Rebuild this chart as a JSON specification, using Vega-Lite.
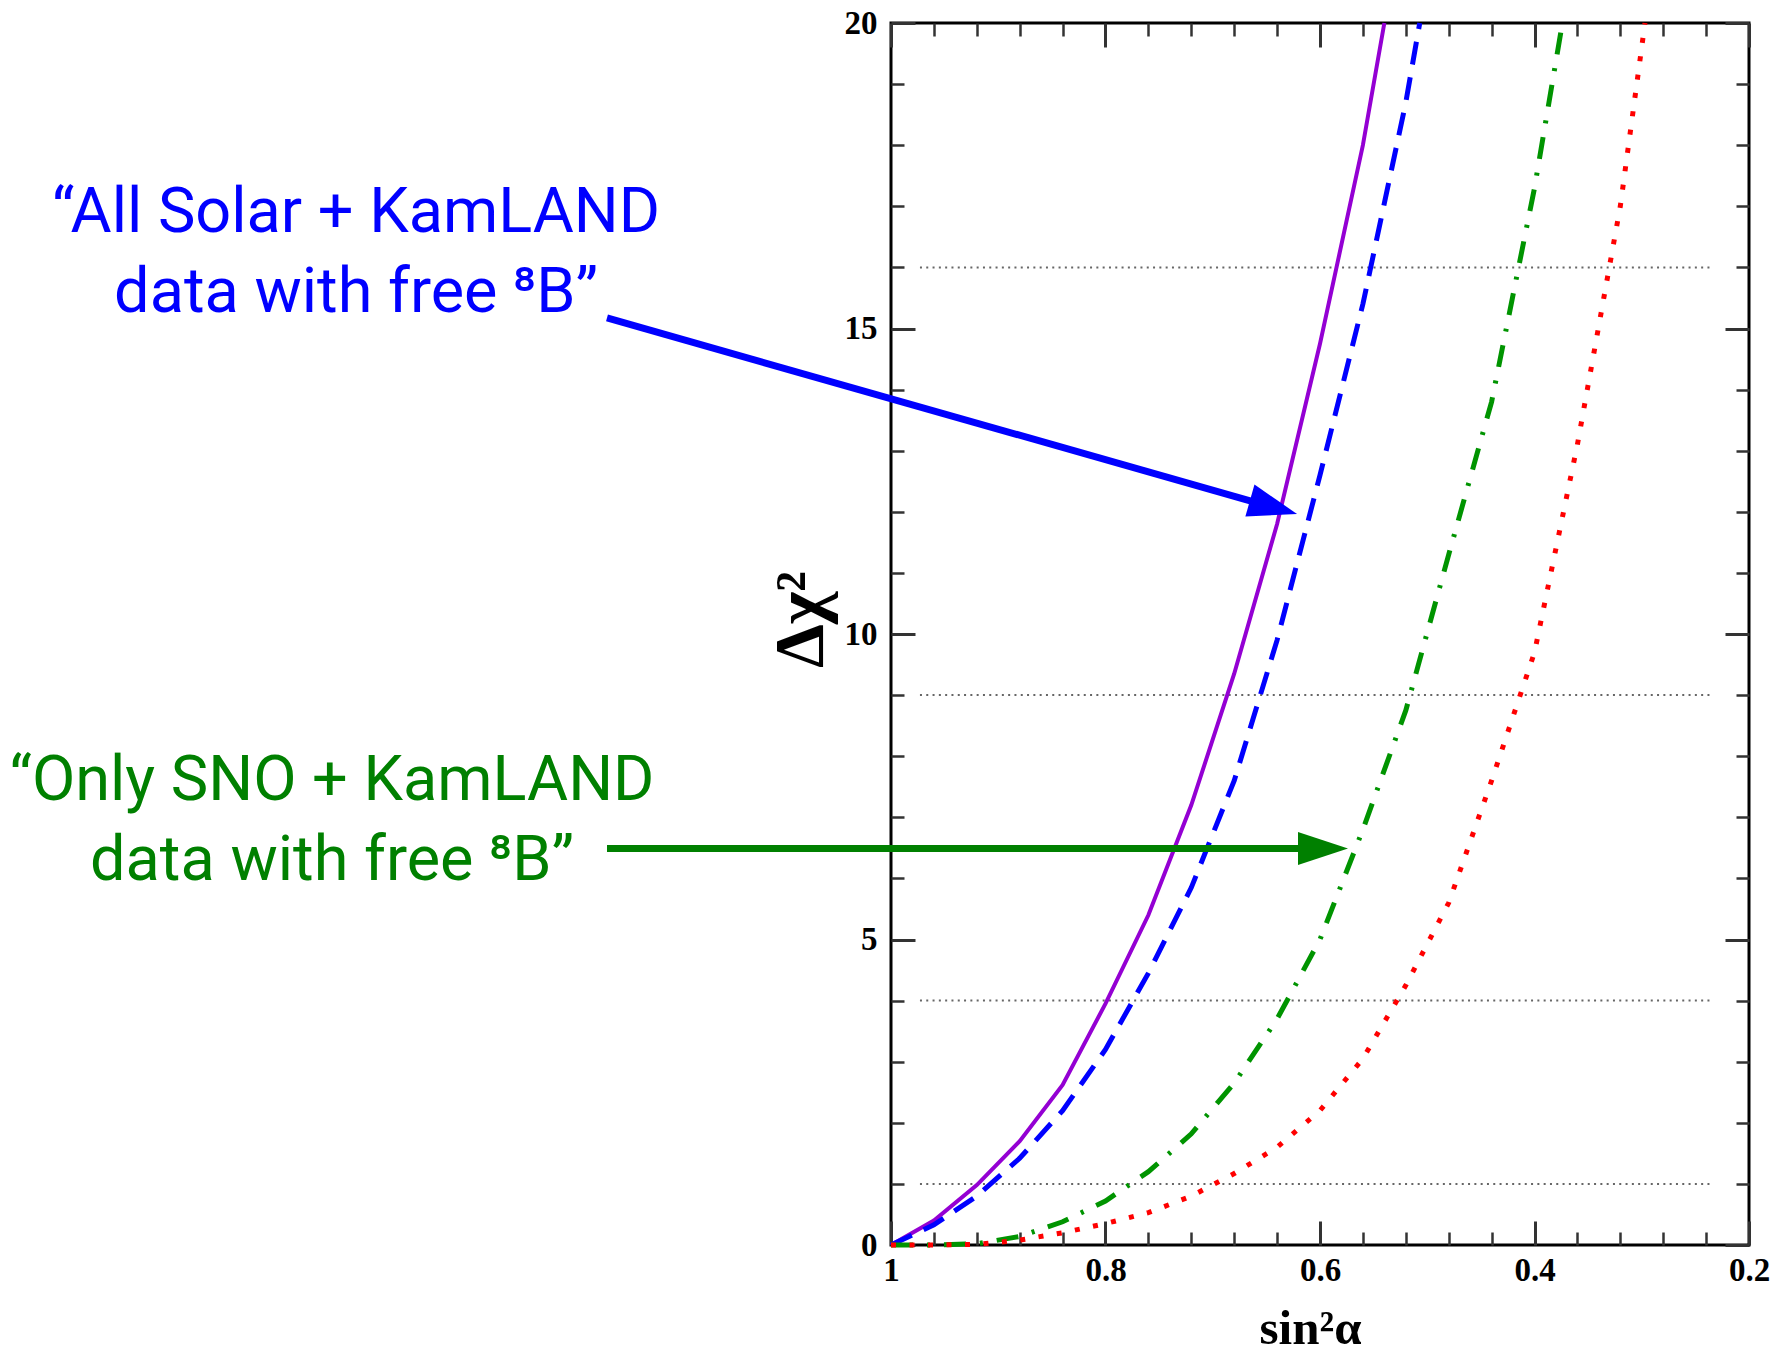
{
  "$schema": "https://vega.github.io/schema/vega-lite/v6.json",
  "width": 858,
  "height": 1222,
  "autosize": {"type": "none"},
  "padding": {"left": 891, "top": 23, "right": 25, "bottom": 111},
  "background": "white",
  "config": {
    "view": {"stroke": "#000000", "strokeWidth": 3},
    "axis": {
      "grid": false,
      "domain": false,
      "tickColor": "#333333",
      "labelFont": "Liberation Serif",
      "labelFontWeight": "bold",
      "labelFontSize": 33,
      "labelColor": "#000000",
      "titleFont": "Liberation Serif",
      "titleFontWeight": "bold",
      "titleColor": "#000000"
    }
  },
  "datasets": {
    "grid": [
      {"y": 1, "x": 0.973, "x2": 0.234},
      {"y": 4, "x": 0.973, "x2": 0.234},
      {"y": 9, "x": 0.973, "x2": 0.234},
      {"y": 16, "x": 0.973, "x2": 0.234}
    ],
    "purple": [
      {"x": 1.0, "y": 0}, {"x": 0.96, "y": 0.4}, {"x": 0.92, "y": 0.98}, {"x": 0.88, "y": 1.7},
      {"x": 0.84, "y": 2.62}, {"x": 0.8, "y": 3.95}, {"x": 0.76, "y": 5.4}, {"x": 0.72, "y": 7.2},
      {"x": 0.68, "y": 9.35}, {"x": 0.64, "y": 11.8}, {"x": 0.6, "y": 14.75}, {"x": 0.56, "y": 18.0},
      {"x": 0.54, "y": 20.0}
    ],
    "blue": [
      {"x": 1.0, "y": 0}, {"x": 0.96, "y": 0.33}, {"x": 0.92, "y": 0.8}, {"x": 0.88, "y": 1.42},
      {"x": 0.84, "y": 2.2}, {"x": 0.8, "y": 3.2}, {"x": 0.76, "y": 4.45}, {"x": 0.72, "y": 5.85},
      {"x": 0.68, "y": 7.6}, {"x": 0.64, "y": 9.9}, {"x": 0.6, "y": 12.6}, {"x": 0.56, "y": 15.4},
      {"x": 0.52, "y": 18.7}, {"x": 0.507, "y": 20.0}
    ],
    "green": [
      {"x": 1.0, "y": 0}, {"x": 0.96, "y": 0}, {"x": 0.92, "y": 0.02}, {"x": 0.88, "y": 0.14},
      {"x": 0.84, "y": 0.38}, {"x": 0.8, "y": 0.72}, {"x": 0.76, "y": 1.2}, {"x": 0.72, "y": 1.82},
      {"x": 0.68, "y": 2.65}, {"x": 0.64, "y": 3.7}, {"x": 0.6, "y": 5.0}, {"x": 0.56, "y": 6.8},
      {"x": 0.52, "y": 8.75}, {"x": 0.48, "y": 11.3}, {"x": 0.44, "y": 13.8}, {"x": 0.4, "y": 17.3},
      {"x": 0.374, "y": 20.0}
    ],
    "red": [
      {"x": 1.0, "y": 0}, {"x": 0.96, "y": 0}, {"x": 0.92, "y": 0.01}, {"x": 0.88, "y": 0.08},
      {"x": 0.84, "y": 0.2}, {"x": 0.8, "y": 0.35}, {"x": 0.76, "y": 0.53}, {"x": 0.72, "y": 0.8},
      {"x": 0.68, "y": 1.17}, {"x": 0.64, "y": 1.6}, {"x": 0.6, "y": 2.2}, {"x": 0.56, "y": 3.05},
      {"x": 0.52, "y": 4.25}, {"x": 0.48, "y": 5.6}, {"x": 0.44, "y": 7.6}, {"x": 0.4, "y": 9.7},
      {"x": 0.36, "y": 13.1}, {"x": 0.32, "y": 17.0}, {"x": 0.297, "y": 20.0}
    ],
    "arrows": [
      {"series": "all", "x": 1.2648, "y": 15.172, "x2": 0.661, "y2": 12.16},
      {"series": "sno", "x": 1.2648, "y": 6.489, "x2": 0.6149, "y2": 6.489}
    ],
    "headAll": [{"x": 0.6214, "y": 11.964}],
    "headSno": [{"x": 0.5739, "y": 6.489}],
    "notes": [
      {"series": "all", "label": "“All Solar + KamLAND", "x": 1.4988, "y": 16.584},
      {"series": "all", "label": "data with free ⁸B”", "x": 1.4988, "y": 15.275},
      {"series": "sno", "label": "“Only SNO + KamLAND", "x": 1.5212, "y": 7.283},
      {"series": "sno", "label": "data with free ⁸B”", "x": 1.5212, "y": 5.974}
    ]
  },
  "layer": [
    {
      "data": {"name": "grid"},
      "mark": {"type": "rule", "color": "#666666", "strokeWidth": 2, "strokeDash": [2, 4.3]},
      "encoding": {
        "x": {"field": "x", "type": "quantitative",
          "scale": {"domain": [0.2, 1], "reverse": true, "nice": false, "zero": false},
          "axis": {"orient": "bottom", "values": [1, 0.8, 0.6, 0.4, 0.2], "format": "~g",
            "ticks": false, "tickSize": 0, "labelPadding": 9, "labelFlush": false, "labelOverlap": false,
            "title": "sin²α", "titleFontSize": 49, "titleX": 419, "titleY": 98,
            "titleBaseline": "alphabetic", "titleAlign": "center"}},
        "x2": {"field": "x2"},
        "y": {"field": "y", "type": "quantitative",
          "scale": {"domain": [0, 20], "nice": false, "zero": false},
          "axis": {"orient": "left", "values": [0, 5, 10, 15, 20],
            "ticks": false, "tickSize": 0, "labelPadding": 14, "labelFlush": false, "labelOverlap": false,
            "title": "Δχ²", "titleFontSize": 70, "titleAngle": 270, "titleX": -69, "titleY": 596,
            "titleBaseline": "alphabetic", "titleAlign": "center"}}
      }
    },
    {
      "data": {"name": "purple"},
      "mark": {"type": "line", "color": "#9400D3", "strokeWidth": 4},
      "encoding": {
        "x": {"field": "x", "type": "quantitative",
          "scale": {"domain": [0.2, 1], "reverse": true, "nice": false, "zero": false},
          "axis": {"orient": "bottom", "values": [1, 0.8, 0.6, 0.4, 0.2], "labels": false,
            "tickSize": -24, "tickWidth": 3, "title": null}},
        "y": {"field": "y", "type": "quantitative",
          "scale": {"domain": [0, 20], "nice": false, "zero": false},
          "axis": {"orient": "left", "values": [0, 5, 10, 15, 20], "labels": false,
            "tickSize": -24, "tickWidth": 3, "title": null}},
        "order": {"field": "x", "sort": "descending"}
      }
    },
    {
      "data": {"name": "blue"},
      "mark": {"type": "line", "color": "#0000FF", "strokeWidth": 5, "strokeDash": [23, 13]},
      "encoding": {
        "x": {"field": "x", "type": "quantitative",
          "scale": {"domain": [0.2, 1], "reverse": true, "nice": false, "zero": false},
          "axis": {"orient": "bottom", "values": [0.96, 0.92, 0.88, 0.84, 0.76, 0.72, 0.68, 0.64, 0.56, 0.52, 0.48, 0.44, 0.36, 0.32, 0.28, 0.24],
            "labels": false, "tickSize": -13, "tickWidth": 2.5, "title": null}},
        "y": {"field": "y", "type": "quantitative",
          "scale": {"domain": [0, 20], "nice": false, "zero": false},
          "axis": {"orient": "left", "values": [1, 2, 3, 4, 6, 7, 8, 9, 11, 12, 13, 14, 16, 17, 18, 19],
            "labels": false, "tickSize": -13, "tickWidth": 2.5, "title": null}},
        "order": {"field": "x", "sort": "descending"}
      }
    },
    {
      "data": {"name": "green"},
      "mark": {"type": "line", "color": "#009400", "strokeWidth": 5, "strokeDash": [22, 14, 3, 14]},
      "encoding": {
        "x": {"field": "x", "type": "quantitative",
          "scale": {"domain": [0.2, 1], "reverse": true, "nice": false, "zero": false},
          "axis": {"orient": "top", "values": [1, 0.8, 0.6, 0.4, 0.2], "labels": false,
            "tickSize": -24, "tickWidth": 3, "title": null}},
        "y": {"field": "y", "type": "quantitative",
          "scale": {"domain": [0, 20], "nice": false, "zero": false},
          "axis": {"orient": "right", "values": [0, 5, 10, 15, 20], "labels": false,
            "tickSize": -24, "tickWidth": 3, "title": null}},
        "order": {"field": "x", "sort": "descending"}
      }
    },
    {
      "data": {"name": "red"},
      "mark": {"type": "line", "color": "#FF0000", "strokeWidth": 5, "strokeDash": [5, 13.5]},
      "encoding": {
        "x": {"field": "x", "type": "quantitative",
          "scale": {"domain": [0.2, 1], "reverse": true, "nice": false, "zero": false},
          "axis": {"orient": "top", "values": [0.96, 0.92, 0.88, 0.84, 0.76, 0.72, 0.68, 0.64, 0.56, 0.52, 0.48, 0.44, 0.36, 0.32, 0.28, 0.24],
            "labels": false, "tickSize": -13, "tickWidth": 2.5, "title": null}},
        "y": {"field": "y", "type": "quantitative",
          "scale": {"domain": [0, 20], "nice": false, "zero": false},
          "axis": {"orient": "right", "values": [1, 2, 3, 4, 6, 7, 8, 9, 11, 12, 13, 14, 16, 17, 18, 19],
            "labels": false, "tickSize": -13, "tickWidth": 2.5, "title": null}},
        "order": {"field": "x", "sort": "descending"}
      }
    },
    {
      "data": {"name": "arrows"},
      "mark": {"type": "rule", "strokeWidth": 7, "strokeCap": "butt"},
      "encoding": {
        "x": {"field": "x", "type": "quantitative",
          "scale": {"domain": [0.2, 1], "reverse": true, "nice": false, "zero": false}, "axis": null},
        "x2": {"field": "x2"},
        "y": {"field": "y", "type": "quantitative",
          "scale": {"domain": [0, 20], "nice": false, "zero": false}, "axis": null},
        "y2": {"field": "y2"},
        "color": {"field": "series", "type": "nominal",
          "scale": {"domain": ["all", "sno"], "range": ["#0000FF", "#008000"]}, "legend": null}
      }
    },
    {
      "data": {"name": "headAll"},
      "mark": {"type": "point", "shape": "M0,0L-2,-0.68L-2,0.68Z", "size": 2401, "filled": true,
        "opacity": 1, "color": "#0000FF", "strokeWidth": 0, "angle": 15.9},
      "encoding": {
        "x": {"field": "x", "type": "quantitative",
          "scale": {"domain": [0.2, 1], "reverse": true, "nice": false, "zero": false}, "axis": null},
        "y": {"field": "y", "type": "quantitative",
          "scale": {"domain": [0, 20], "nice": false, "zero": false}, "axis": null}
      }
    },
    {
      "data": {"name": "headSno"},
      "mark": {"type": "point", "shape": "M0,0L-2,-0.66L-2,0.66Z", "size": 2500, "filled": true,
        "opacity": 1, "color": "#008000", "strokeWidth": 0, "angle": 0},
      "encoding": {
        "x": {"field": "x", "type": "quantitative",
          "scale": {"domain": [0.2, 1], "reverse": true, "nice": false, "zero": false}, "axis": null},
        "y": {"field": "y", "type": "quantitative",
          "scale": {"domain": [0, 20], "nice": false, "zero": false}, "axis": null}
      }
    },
    {
      "data": {"name": "notes"},
      "mark": {"type": "text", "font": "Roboto", "fontSize": 63, "align": "center", "baseline": "alphabetic"},
      "encoding": {
        "x": {"field": "x", "type": "quantitative",
          "scale": {"domain": [0.2, 1], "reverse": true, "nice": false, "zero": false}, "axis": null},
        "y": {"field": "y", "type": "quantitative",
          "scale": {"domain": [0, 20], "nice": false, "zero": false}, "axis": null},
        "text": {"field": "label"},
        "color": {"field": "series", "type": "nominal",
          "scale": {"domain": ["all", "sno"], "range": ["#0000FF", "#008000"]}, "legend": null}
      }
    }
  ],
  "resolve": {"axis": {"x": "independent", "y": "independent"}}
}
